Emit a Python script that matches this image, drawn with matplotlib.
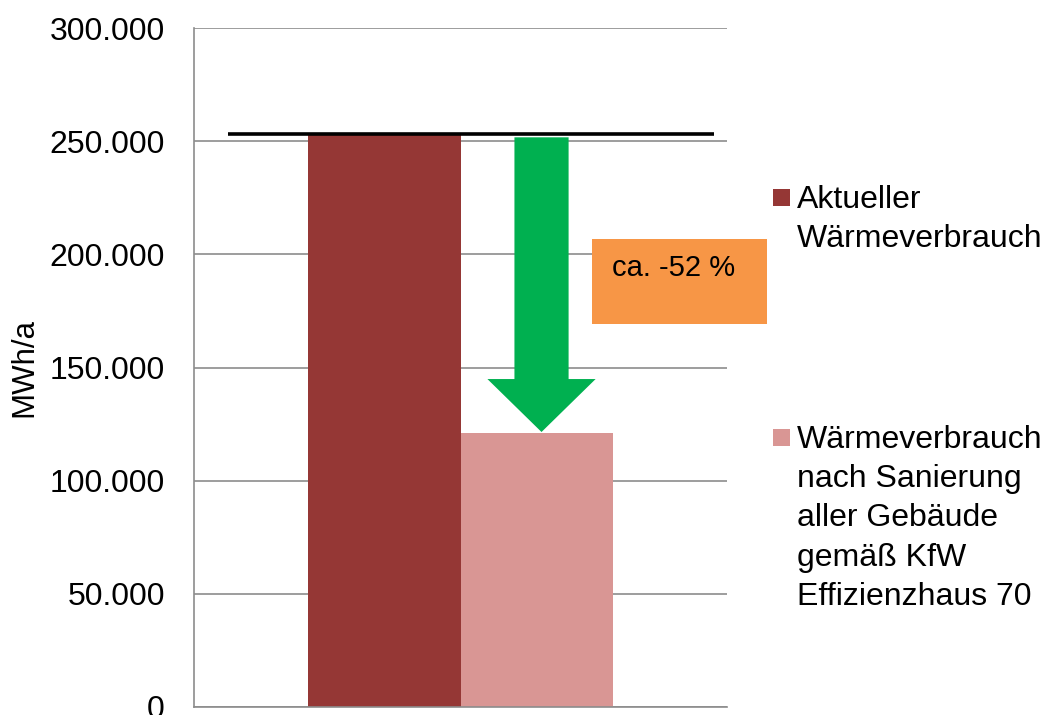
import numpy as np
import matplotlib.pyplot as plt
from matplotlib.patches import FancyArrow, Rectangle
from matplotlib.ticker import FuncFormatter, MultipleLocator

plt.rcParams['font.family'] = ['Liberation Sans', 'DejaVu Sans']

# Wärmeverbrauch in MWh/a
labels = ['Aktueller\nWärmeverbrauch',
          'Wärmeverbrauch\nnach Sanierung\naller Gebäude\ngemäß KfW\nEffizienzhaus 70']
values = [253000, 121000]
colors = ['#953735', '#D99694']
reduction_text = 'ca. -52 %'

fig = plt.figure(figsize=(10.45, 7.15), dpi=100)
ax = fig.add_axes([194 / 1045, 1 - 707 / 715, 533 / 1045, 679 / 715])

w = 0.287
offsets = [-w / 2, w / 2]
for off, v, c, lab in zip(offsets, values, colors, labels):
    ax.bar(off, v, width=w, color=c, label=lab, zorder=2)

# Referenzlinie auf Höhe des aktuellen Verbrauchs
ax.hlines(values[0], -0.436, 0.476, color='black', lw=2.6, zorder=3)

# Pfeil von aktuellem Verbrauch bis zum sanierten Stand
arrow_x = 0.152
arrow_top = values[0] - 1300
ax.add_patch(FancyArrow(arrow_x, arrow_top, 0, values[1] + 500 - arrow_top,
                        width=0.1016, head_width=0.203, head_length=23400,
                        length_includes_head=True, color='#00B050', lw=0, zorder=4))

# Kasten mit Einsparung
ax.add_patch(Rectangle((0.7467, 0.564), 0.3283, 0.1252, transform=ax.transAxes,
                       facecolor='#F79646', edgecolor='none', clip_on=False, zorder=5))
ax.text(0.784, 0.6348, reduction_text, transform=ax.transAxes, fontsize=21,
        va='baseline', ha='left', zorder=6)

ax.set_xlim(-0.5, 0.5)
ax.set_ylim(0, 300000)
ax.yaxis.set_major_locator(MultipleLocator(50000))
ax.yaxis.set_major_formatter(FuncFormatter(lambda v, p: f'{v:,.0f}'.replace(',', '.')))
ax.tick_params(axis='y', length=0, pad=21, labelsize=23)
ax.tick_params(axis='x', length=0, labelbottom=False)
ax.grid(axis='y', color='#8c8c8c', lw=1.2, zorder=0)
for s in ['top', 'right']:
    ax.spines[s].set_visible(False)
for s in ['left', 'bottom']:
    ax.spines[s].set_color('#8c8c8c')
    ax.spines[s].set_linewidth(1.2)
ax.set_ylabel('MWh/a', fontsize=22.5)
ax.yaxis.set_label_coords(-0.29, 0.5)

# Legende: Marker auf Höhe der ersten Zeile
leg_x = 773
for lab, c, top in zip(labels, colors, [189, 429]):
    fig.patches.append(Rectangle((leg_x / 1045, 1 - (top + 17) / 715), 17 / 1045, 17 / 715,
                                 transform=fig.transFigure, facecolor=c, edgecolor='none'))
    fig.text(797 / 1045, 1 - (top - 4) / 715, lab, fontsize=23, va='top', ha='left',
             linespacing=1.4)

fig.savefig('out.png', dpi=100)
